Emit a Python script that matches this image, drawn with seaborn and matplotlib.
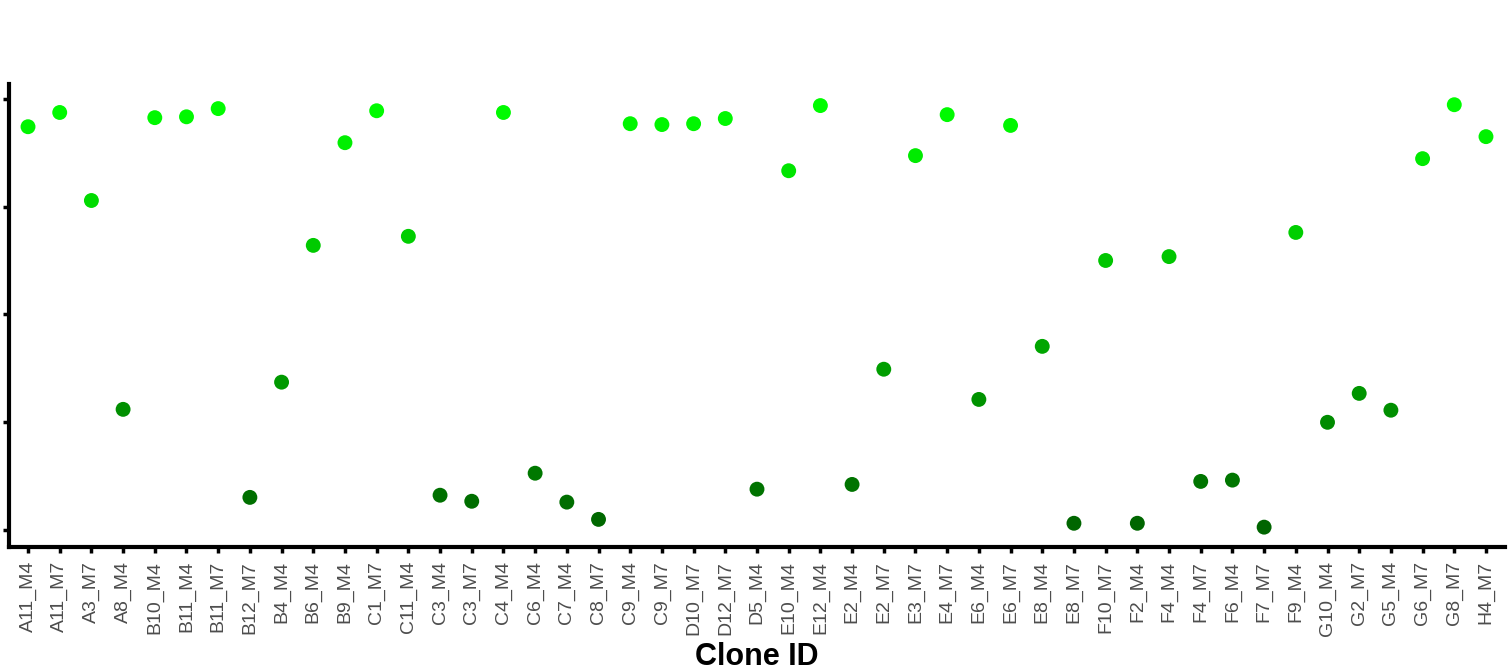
import pandas as pd
import matplotlib.pyplot as plt
import seaborn as sns
from matplotlib.colors import LinearSegmentedColormap

# dados
clones = ['A11_M4', 'A11_M7', 'A3_M7', 'A8_M4', 'B10_M4', 'B11_M4', 'B11_M7', 'B12_M7',
          'B4_M4', 'B6_M4', 'B9_M4', 'C1_M7', 'C11_M4', 'C3_M4', 'C3_M7', 'C4_M4',
          'C6_M4', 'C7_M4', 'C8_M7', 'C9_M4', 'C9_M7', 'D10_M7', 'D12_M7', 'D5_M4',
          'E10_M4', 'E12_M4', 'E2_M4', 'E2_M7', 'E3_M7', 'E4_M7', 'E6_M4', 'E6_M7',
          'E8_M4', 'E8_M7', 'F10_M7', 'F2_M4', 'F4_M4', 'F4_M7', 'F6_M4', 'F7_M7',
          'F9_M4', 'G10_M4', 'G2_M7', 'G5_M4', 'G6_M7', 'G8_M7', 'H4_M7']
valores = [93.5, 96.8, 76.4, 28.0, 95.6, 95.8, 97.7, 7.6,
           34.3, 66.0, 89.8, 97.2, 68.1, 8.1, 6.7, 96.8,
           13.2, 6.5, 2.5, 94.2, 94.0, 94.2, 95.4, 9.5,
           83.3, 98.4, 10.6, 37.3, 86.8, 96.3, 30.3, 93.8,
           42.6, 1.6, 62.5, 1.6, 63.4, 11.3, 11.6, 0.7,
           69.0, 25.0, 31.7, 27.8, 86.1, 98.6, 91.2]
y_ticks = [0, 25, 50, 75, 100]

df = pd.DataFrame({'Clone ID': clones, 'Valor': valores})

verdes = LinearSegmentedColormap.from_list('verdes', ['#006400', '#00ff00'])

fig = plt.figure(figsize=(15.12, 6.71), dpi=100)
ax = fig.add_axes([9 / 1512, 124 / 671, 1496 / 1512, 463 / 671])

sns.scatterplot(data=df, x='Clone ID', y='Valor', hue='Valor', palette=verdes,
                hue_norm=(0, 100), s=115, linewidth=0, legend=False, ax=ax)

ax.set_xlim(-0.6, len(clones) - 0.4)
ax.set_ylim(-3.9, 103.4)
ax.set_yticks(y_ticks)
ax.set_yticklabels([])
ax.set_ylabel('')
ax.set_xlabel('Clone ID', fontsize=22, fontweight='bold', family='Liberation Sans', labelpad=4)
ax.tick_params(axis='x', rotation=90, labelsize=14, labelcolor='#4d4d4d',
               length=4, width=2.5, pad=6)
ax.tick_params(axis='y', length=4, width=2.5)
for lab in ax.get_xticklabels():
    lab.set_family('Liberation Sans')

sns.despine(ax=ax)
ax.spines['left'].set_linewidth(3)
ax.spines['bottom'].set_linewidth(3)

fig.savefig('out.png', dpi=100)
